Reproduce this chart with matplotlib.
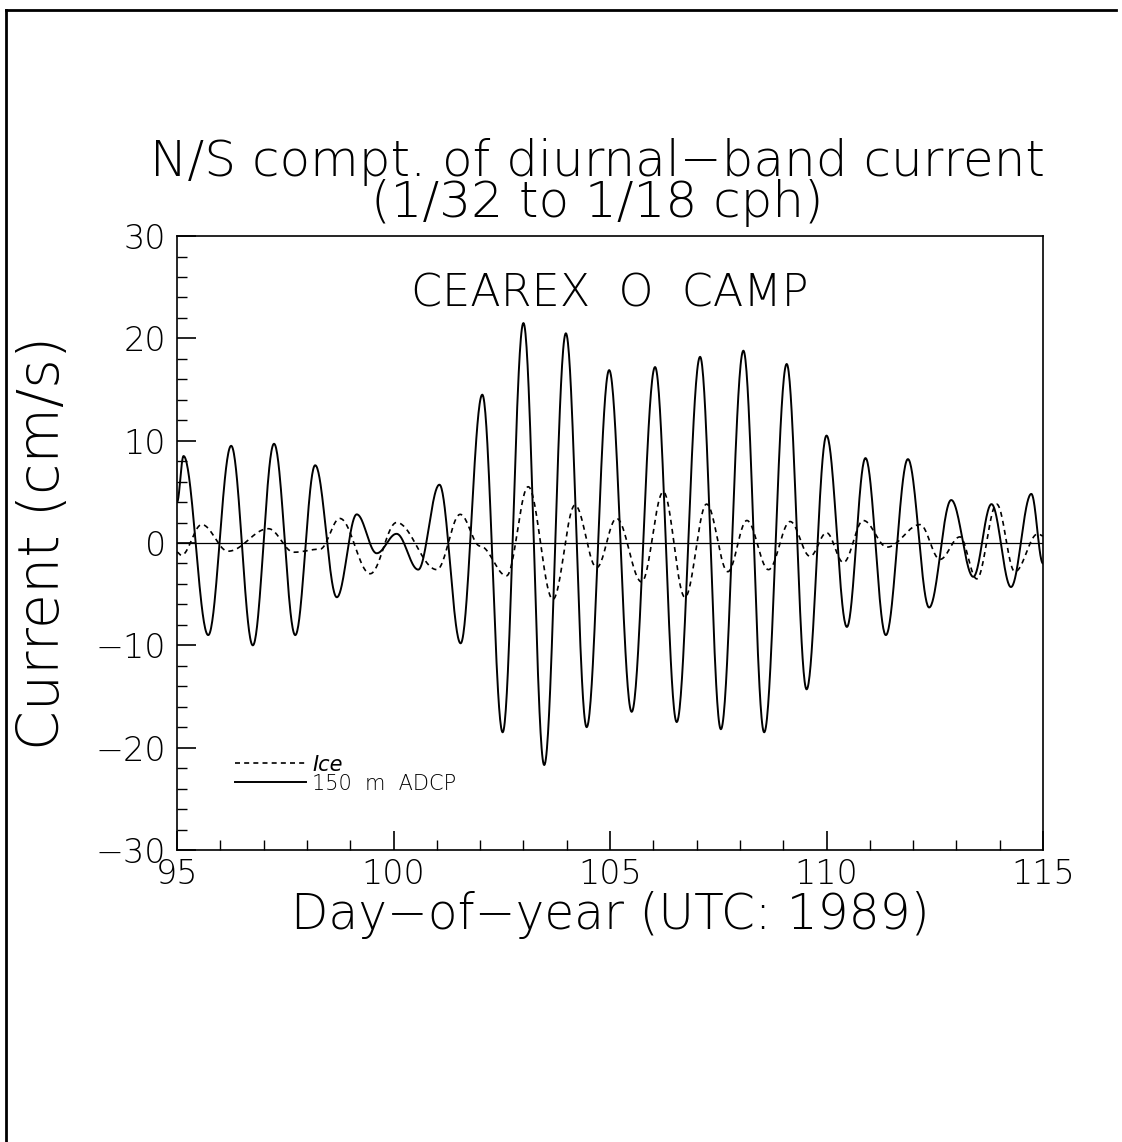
import numpy as np
import matplotlib.pyplot as plt
from matplotlib.lines import Line2D

# extrema (day, cm/s)
adcp_day = [95.0, 95.15, 95.72, 96.25, 96.75, 97.24, 97.73, 98.19, 98.69, 99.15,
            99.61, 100.07, 100.57, 101.06, 101.55, 102.05, 102.52, 103.0, 103.48,
            103.98, 104.46, 104.98, 105.5, 106.04, 106.54, 107.08, 107.56, 108.08,
            108.56, 109.08, 109.54, 110.0, 110.47, 110.9, 111.37, 111.88, 112.37,
            112.88, 113.39, 113.81, 114.26, 114.73, 115.0]
adcp_val = [4.0, 8.5, -9.0, 9.5, -10.0, 9.7, -9.0, 7.6, -5.3, 2.8,
            -1.0, 0.9, -2.6, 5.7, -9.8, 14.5, -18.5, 21.5, -21.7,
            20.5, -18.0, 16.9, -16.5, 17.2, -17.5, 18.2, -18.2, 18.8,
            -18.5, 17.5, -14.3, 10.5, -8.2, 8.3, -9.0, 8.2, -6.3,
            4.2, -3.3, 3.8, -4.3, 4.8, -2.0]

ice_day = [95.0, 95.1, 95.57, 96.18, 97.11, 97.7, 98.3, 98.76, 99.46, 100.07,
           101.0, 101.54, 102.0, 102.61, 103.11, 103.68, 104.19, 104.69, 105.15,
           105.73, 106.23, 106.73, 107.23, 107.72, 108.16, 108.66, 109.16, 109.62,
           110.0, 110.39, 110.85, 111.4, 112.16, 112.62, 113.08, 113.47, 113.93,
           114.35, 114.88, 115.0]
ice_val = [-0.9, -1.2, 1.8, -0.8, 1.4, -0.9, -0.6, 2.4, -3.0, 2.0,
           -2.6, 2.8, -0.3, -3.2, 5.5, -5.5, 3.7, -2.4, 2.4,
           -3.8, 5.0, -5.3, 3.8, -2.8, 2.2, -2.6, 2.1, -1.3,
           1.0, -1.9, 2.2, -0.4, 1.8, -1.6, 0.6, -3.5, 3.8,
           -2.8, 0.9, 0.7]

x_ticks = [95, 100, 105, 110, 115]
y_ticks = [-30, -20, -10, 0, 10, 20, 30]
y_ticklabels = ['\u221230', '\u221220', '\u221210', '0', '10', '20', '30']


def smooth(days, vals, n=40):
    # half-cosine join between successive extrema
    tt, vv = [], []
    for k in range(len(days) - 1):
        s = np.linspace(0, 1, n, endpoint=False)
        w = (1 - np.cos(np.pi * s)) / 2
        tt.append(days[k] + (days[k + 1] - days[k]) * s)
        vv.append(vals[k] + (vals[k + 1] - vals[k]) * w)
    tt.append([days[-1]])
    vv.append([vals[-1]])
    return np.concatenate(tt), np.concatenate(vv)


plt.rcParams['font.family'] = ['DejaVu Sans']
plt.rcParams['font.weight'] = 'light'
fig = plt.figure(figsize=(11.22, 11.42), dpi=100)
ax = fig.add_axes([0.1578, 0.2557, 0.7718, 0.5376])

t1, v1 = smooth(ice_day, ice_val)
t2, v2 = smooth(adcp_day, adcp_val)
ax.plot(t1, v1, color='black', lw=1.2, ls=(0, (3, 2.5)), label='Ice')
ax.plot(t2, v2, color='black', lw=1.4, label='150  m  ADCP')
ax.axhline(0, color='black', lw=0.9)

ax.set_xlim(95, 115)
ax.set_ylim(-30, 30)
ax.set_xticks(x_ticks)
ax.set_yticks(y_ticks)
ax.set_yticklabels(y_ticklabels)
ax.set_xticks(np.arange(95, 116, 1), minor=True)
ax.set_yticks(np.arange(-30, 31, 2), minor=True)
ax.tick_params(which='both', direction='in', top=False, right=False, labelsize=24)
ax.tick_params(which='major', length=14, width=1.2)
ax.tick_params(which='minor', length=7, width=1.0)
ax.tick_params(axis='x', pad=6)
ax.tick_params(axis='y', pad=8)
for sp in ax.spines.values():
    sp.set_linewidth(1.2)

ax.set_xlabel('Day\u2212of\u2212year (UTC: 1989)', fontsize=35, labelpad=0,
              fontweight='light')
ax.set_ylabel('Current (cm/s)', fontsize=41, labelpad=18, fontweight='light')
ax.set_title('N/S compt. of diurnal\u2212band current\n(1/32 to 1/18 cph)',
             fontsize=36, linespacing=0.8, pad=14, x=0.485, fontweight='light')
ax.text(0.5, 0.905, 'CEAREX  O  CAMP', transform=ax.transAxes, ha='center', va='center',
        fontsize=32)

leg = ax.legend(loc='lower left', bbox_to_anchor=(0.055, 0.075), frameon=False,
                fontsize=15, handlelength=3.4, handletextpad=0.3, labelspacing=-0.05,
                borderpad=0)
leg.get_texts()[0].set_style('italic')

# page frame: top and left edges
fig.add_artist(Line2D([0.005, 0.995], [0.991, 0.991], color='black', lw=2))
fig.add_artist(Line2D([0.005, 0.005], [0.0, 0.991], color='black', lw=2))

fig.savefig('out.png', dpi=100)
